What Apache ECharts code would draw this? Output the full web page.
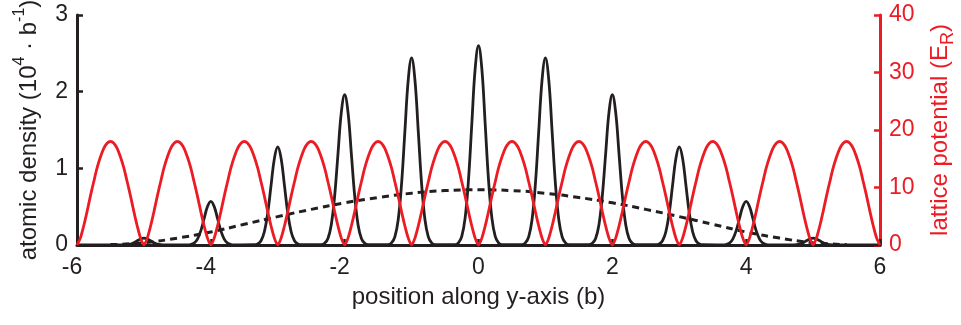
<!DOCTYPE html>
<html>
<head>
<meta charset="utf-8">
<script src="https://cdn.jsdelivr.net/npm/echarts@6/dist/echarts.min.js"></script>
<style>
  html, body { margin: 0; padding: 0; background: #ffffff; }
  #chart { width: 961px; height: 325px; }
</style>
</head>
<body>
<div id="chart"></div>
<script>
// Lattice sites (b) and the atomic density sampled around each site (10^4 / b)
const siteCenters = [-5, -4, -3, -2, -1, 0, 1, 2, 3, 4, 5];
const siteOffsets = [-0.35, -0.3, -0.25, -0.2, -0.15, -0.1, -0.05, 0, 0.05, 0.1, 0.15, 0.2, 0.25, 0.3, 0.35];
const siteDensity = [
  [0.000, 0.001, 0.004, 0.012, 0.029, 0.055, 0.079, 0.090, 0.079, 0.055, 0.029, 0.012, 0.004, 0.001, 0.000],
  [0.001, 0.006, 0.025, 0.077, 0.185, 0.346, 0.503, 0.570, 0.503, 0.346, 0.185, 0.077, 0.025, 0.006, 0.001],
  [0.003, 0.014, 0.056, 0.173, 0.416, 0.777, 1.130, 1.280, 1.130, 0.777, 0.416, 0.173, 0.056, 0.014, 0.003],
  [0.004, 0.022, 0.086, 0.265, 0.637, 1.190, 1.731, 1.960, 1.731, 1.190, 0.637, 0.265, 0.086, 0.022, 0.004],
  [0.005, 0.027, 0.107, 0.329, 0.793, 1.481, 2.155, 2.440, 2.155, 1.481, 0.793, 0.329, 0.107, 0.027, 0.005],
  [0.005, 0.029, 0.114, 0.351, 0.845, 1.578, 2.296, 2.600, 2.296, 1.578, 0.845, 0.351, 0.114, 0.029, 0.005],
  [0.005, 0.027, 0.107, 0.329, 0.793, 1.481, 2.155, 2.440, 2.155, 1.481, 0.793, 0.329, 0.107, 0.027, 0.005],
  [0.004, 0.022, 0.086, 0.265, 0.637, 1.190, 1.731, 1.960, 1.731, 1.190, 0.637, 0.265, 0.086, 0.022, 0.004],
  [0.003, 0.014, 0.056, 0.173, 0.416, 0.777, 1.130, 1.280, 1.130, 0.777, 0.416, 0.173, 0.056, 0.014, 0.003],
  [0.001, 0.006, 0.025, 0.077, 0.185, 0.346, 0.503, 0.570, 0.503, 0.346, 0.185, 0.077, 0.025, 0.006, 0.001],
  [0.000, 0.001, 0.004, 0.012, 0.029, 0.055, 0.079, 0.090, 0.079, 0.055, 0.029, 0.012, 0.004, 0.001, 0.000]
];

// Smoothed (site-averaged) density envelope
const envelopeX = [-5.5, -5, -4.5, -4, -3.5, -3, -2.5, -2, -1.5, -1, -0.5, 0, 0.5, 1, 1.5, 2, 2.5, 3, 3.5, 4, 4.5, 5, 5.5];
const envelopeY = [0.005, 0.03, 0.09, 0.17, 0.27, 0.37, 0.465, 0.55, 0.62, 0.675, 0.71, 0.72, 0.71, 0.675, 0.62, 0.55, 0.465, 0.37, 0.27, 0.17, 0.09, 0.03, 0.005];

// Lattice potential (E_R), sampled every 0.05 b from -6 to 6
const potentialStart = -6;
const potentialStep = 0.05;
const latticePotential = [
  0, 1.2, 3.3, 5.8, 8.5, 11.0, 13.4, 15.3, 16.8, 17.7, 18, 17.7, 16.8, 15.3, 13.4, 11.0, 8.5, 5.8, 3.3, 1.2,
  0, 1.2, 3.3, 5.8, 8.5, 11.0, 13.4, 15.3, 16.8, 17.7, 18, 17.7, 16.8, 15.3, 13.4, 11.0, 8.5, 5.8, 3.3, 1.2,
  0, 1.2, 3.3, 5.8, 8.5, 11.0, 13.4, 15.3, 16.8, 17.7, 18, 17.7, 16.8, 15.3, 13.4, 11.0, 8.5, 5.8, 3.3, 1.2,
  0, 1.2, 3.3, 5.8, 8.5, 11.0, 13.4, 15.3, 16.8, 17.7, 18, 17.7, 16.8, 15.3, 13.4, 11.0, 8.5, 5.8, 3.3, 1.2,
  0, 1.2, 3.3, 5.8, 8.5, 11.0, 13.4, 15.3, 16.8, 17.7, 18, 17.7, 16.8, 15.3, 13.4, 11.0, 8.5, 5.8, 3.3, 1.2,
  0, 1.2, 3.3, 5.8, 8.5, 11.0, 13.4, 15.3, 16.8, 17.7, 18, 17.7, 16.8, 15.3, 13.4, 11.0, 8.5, 5.8, 3.3, 1.2,
  0, 1.2, 3.3, 5.8, 8.5, 11.0, 13.4, 15.3, 16.8, 17.7, 18, 17.7, 16.8, 15.3, 13.4, 11.0, 8.5, 5.8, 3.3, 1.2,
  0, 1.2, 3.3, 5.8, 8.5, 11.0, 13.4, 15.3, 16.8, 17.7, 18, 17.7, 16.8, 15.3, 13.4, 11.0, 8.5, 5.8, 3.3, 1.2,
  0, 1.2, 3.3, 5.8, 8.5, 11.0, 13.4, 15.3, 16.8, 17.7, 18, 17.7, 16.8, 15.3, 13.4, 11.0, 8.5, 5.8, 3.3, 1.2,
  0, 1.2, 3.3, 5.8, 8.5, 11.0, 13.4, 15.3, 16.8, 17.7, 18, 17.7, 16.8, 15.3, 13.4, 11.0, 8.5, 5.8, 3.3, 1.2,
  0, 1.2, 3.3, 5.8, 8.5, 11.0, 13.4, 15.3, 16.8, 17.7, 18, 17.7, 16.8, 15.3, 13.4, 11.0, 8.5, 5.8, 3.3, 1.2,
  0, 1.2, 3.3, 5.8, 8.5, 11.0, 13.4, 15.3, 16.8, 17.7, 18, 17.7, 16.8, 15.3, 13.4, 11.0, 8.5, 5.8, 3.3, 1.2,
  0
];

// Axis ranges and ticks
const xRange = [-6, 6], xTickStep = 2;
const densityRange = [0, 3], densityTickStep = 1;
const potentialRange = [0, 40], potentialTickStep = 10;

const INK = '#231f20';
const RED = '#ec1c24';
const FONT = '"Liberation Sans", Arial, Helvetica, sans-serif';
const TICK_FONT = 23;

// Assemble [x, y] pairs for the library
const densityData = [[xRange[0], 0]];
siteCenters.forEach((c, i) => {
  siteOffsets.forEach((o, j) => densityData.push([+(c + o).toFixed(3), siteDensity[i][j]]));
});
densityData.push([xRange[1], 0]);

const envelopeData = envelopeX.map((x, i) => [x, envelopeY[i]]);
const potentialData = latticePotential.map((v, i) => [+(potentialStart + i * potentialStep).toFixed(3), v]);

const chart = echarts.init(document.getElementById('chart'), null, { renderer: 'canvas' });

chart.setOption({
  animation: false,
  backgroundColor: '#ffffff',
  textStyle: { fontFamily: FONT },
  grid: { left: 77, right: 81, top: 15, bottom: 80, containLabel: false, outerBoundsMode: 'none' },
  xAxis: {
    type: 'value',
    min: xRange[0], max: xRange[1], interval: xTickStep,
    splitLine: { show: false },
    axisLine: { show: true, onZero: false, lineStyle: { color: INK, width: 3 } },
    axisTick: { show: true, inside: true, length: 6, lineStyle: { color: INK, width: 2.5 } },
    axisLabel: {
      color: INK, fontSize: TICK_FONT, fontFamily: FONT, margin: 11,
      formatter: v => (v < 0 ? '{neg|' + v + '}' : '{pos|' + v + '}'),
      rich: {
        neg: { fontSize: TICK_FONT, fontFamily: FONT, color: INK, padding: [0, 10, 0, 0] },
        pos: { fontSize: TICK_FONT, fontFamily: FONT, color: INK }
      }
    },
    name: 'position along y-axis (b)',
    nameLocation: 'middle',
    nameGap: 40,
    nameTextStyle: { color: INK, fontSize: 24, fontFamily: FONT }
  },
  yAxis: [
    {
      type: 'value', position: 'left',
      min: densityRange[0], max: densityRange[1], interval: densityTickStep,
      splitLine: { show: false },
      axisLine: { show: true, onZero: false, lineStyle: { color: INK, width: 3 } },
      axisTick: { show: true, inside: true, length: 6, lineStyle: { color: INK, width: 2.5 } },
      axisLabel: { color: INK, fontSize: TICK_FONT, fontFamily: FONT, margin: 9 },
      name: 'atomic density (10{sup|4} · b{sup|-1})',
      nameLocation: 'middle',
      nameRotate: 90,
      nameGap: 31,
      nameTextStyle: {
        color: INK, fontSize: 24, fontFamily: FONT,
        rich: {
          sup: { fontSize: 16, fontFamily: FONT, color: INK, verticalAlign: 'top', lineHeight: 34 }
        }
      }
    },
    {
      type: 'value', position: 'right',
      min: potentialRange[0], max: potentialRange[1], interval: potentialTickStep,
      splitLine: { show: false },
      axisLine: { show: true, onZero: false, lineStyle: { color: RED, width: 3 } },
      axisTick: { show: true, inside: true, length: 6, lineStyle: { color: RED, width: 2.5 } },
      axisLabel: { color: RED, fontSize: TICK_FONT, fontFamily: FONT, margin: 9 },
      name: 'lattice potential (E{sub|R})',
      nameLocation: 'middle',
      nameRotate: 90,
      nameGap: 43,
      nameTextStyle: {
        color: RED, fontSize: 24, fontFamily: FONT,
        rich: {
          sub: { fontSize: 18, fontFamily: FONT, color: RED, verticalAlign: 'bottom', lineHeight: 34 }
        }
      }
    }
  ],
  series: [
    {
      name: 'atomic density', type: 'line', yAxisIndex: 0,
      data: densityData, showSymbol: false, smooth: 0.4,
      lineStyle: { color: INK, width: 2.8 }, z: 2
    },
    {
      name: 'density envelope', type: 'line', yAxisIndex: 0,
      data: envelopeData, showSymbol: false, smooth: true,
      lineStyle: { color: INK, width: 3, type: [7, 5] }, z: 3
    },
    {
      name: 'lattice potential', type: 'line', yAxisIndex: 1,
      data: potentialData, showSymbol: false, smooth: 0.3,
      lineStyle: { color: RED, width: 2.8 }, z: 4
    }
  ]
});
</script>
</body>
</html>
